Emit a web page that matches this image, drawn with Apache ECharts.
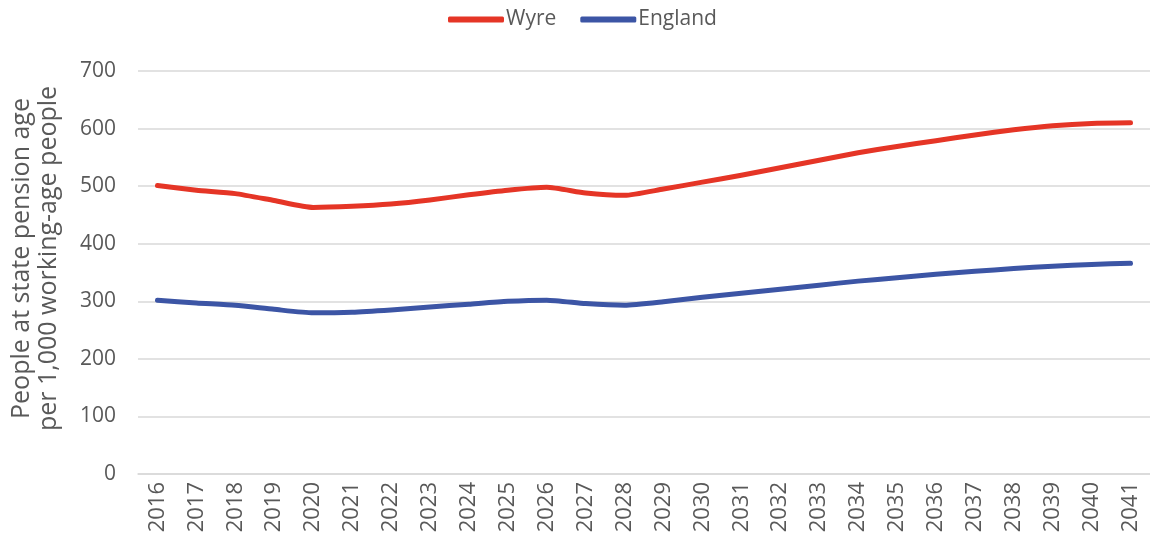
<!DOCTYPE html>
<html>
<head>
<meta charset="utf-8">
<script src="https://cdn.jsdelivr.net/npm/echarts@6/dist/echarts.min.js"></script>
<style>
  html, body { margin: 0; padding: 0; background: #fff; }
  #main { width: 1150px; height: 540px; }
</style>
</head>
<body>
<div id="main"></div>
<script>
// data
var years = ['2016', '2017', '2018', '2019', '2020', '2021', '2022', '2023', '2024',
  '2025', '2026', '2027', '2028', '2029', '2030', '2031', '2032', '2033', '2034',
  '2035', '2036', '2037', '2038', '2039', '2040', '2041'];
var wyre = [501, 493, 487, 475, 463, 465, 469, 476, 485, 493, 498, 488, 484,
  495, 507, 519, 532, 545, 558, 569, 579, 589, 598, 605, 609, 610];
var england = [302, 297, 293, 286, 280, 281, 285, 290, 295, 300, 302, 296, 293,
  299, 307, 314, 321, 328, 335, 341, 347, 352, 357, 361, 364, 366];
var yTitle = 'People at state pension age\nper 1,000 working-age people';

var font = '"Open Sans", "Liberation Sans", sans-serif';
var textColor = '#595959';

var myChart = echarts.init(document.getElementById('main'));

myChart.setOption({
  backgroundColor: '#fff',
  textStyle: { fontFamily: font },
  legend: {
    top: 4,
    left: 443,
    icon: 'roundRect',
    itemWidth: 56,
    itemHeight: 6,
    itemGap: 24,
    textStyle: { color: textColor, fontSize: 21, fontFamily: font, padding: [0, 0, 0, -3] },
    data: ['Wyre', 'England']
  },
  grid: {
    left: 137,
    top: 71,
    width: 1021,
    bottom: 66
  },
  xAxis: {
    type: 'category',
    data: years,
    boundaryGap: true,
    axisLine: { lineStyle: { color: '#d9d9d9', width: 1.5 } },
    axisTick: { show: false },
    axisLabel: {
      rotate: 90,
      interval: 0,
      margin: 8,
      color: textColor,
      fontSize: 22,
      fontFamily: font
    }
  },
  yAxis: {
    type: 'value',
    min: 0,
    max: 700,
    interval: 100,
    name: yTitle,
    nameLocation: 'middle',
    nameRotate: 90,
    nameGap: 76,
    nameTextStyle: {
      color: textColor, fontSize: 25, lineHeight: 27, fontFamily: font,
      padding: [0, 0, 0, 28]
    },
    axisLine: { show: false },
    axisTick: { show: false },
    axisLabel: { color: textColor, fontSize: 21, margin: 22, fontFamily: font },
    splitLine: { lineStyle: { color: '#d9d9d9', width: 1.5 } }
  },
  series: [
    {
      name: 'Wyre',
      type: 'line',
      data: wyre,
      symbol: 'none',
      smooth: 0.2,
      color: '#e53526',
      lineStyle: { width: 5, cap: 'round', join: 'round' }
    },
    {
      name: 'England',
      type: 'line',
      data: england,
      symbol: 'none',
      smooth: 0.2,
      color: '#3c55a5',
      lineStyle: { width: 5, cap: 'round', join: 'round' }
    }
  ]
});
</script>
</body>
</html>
